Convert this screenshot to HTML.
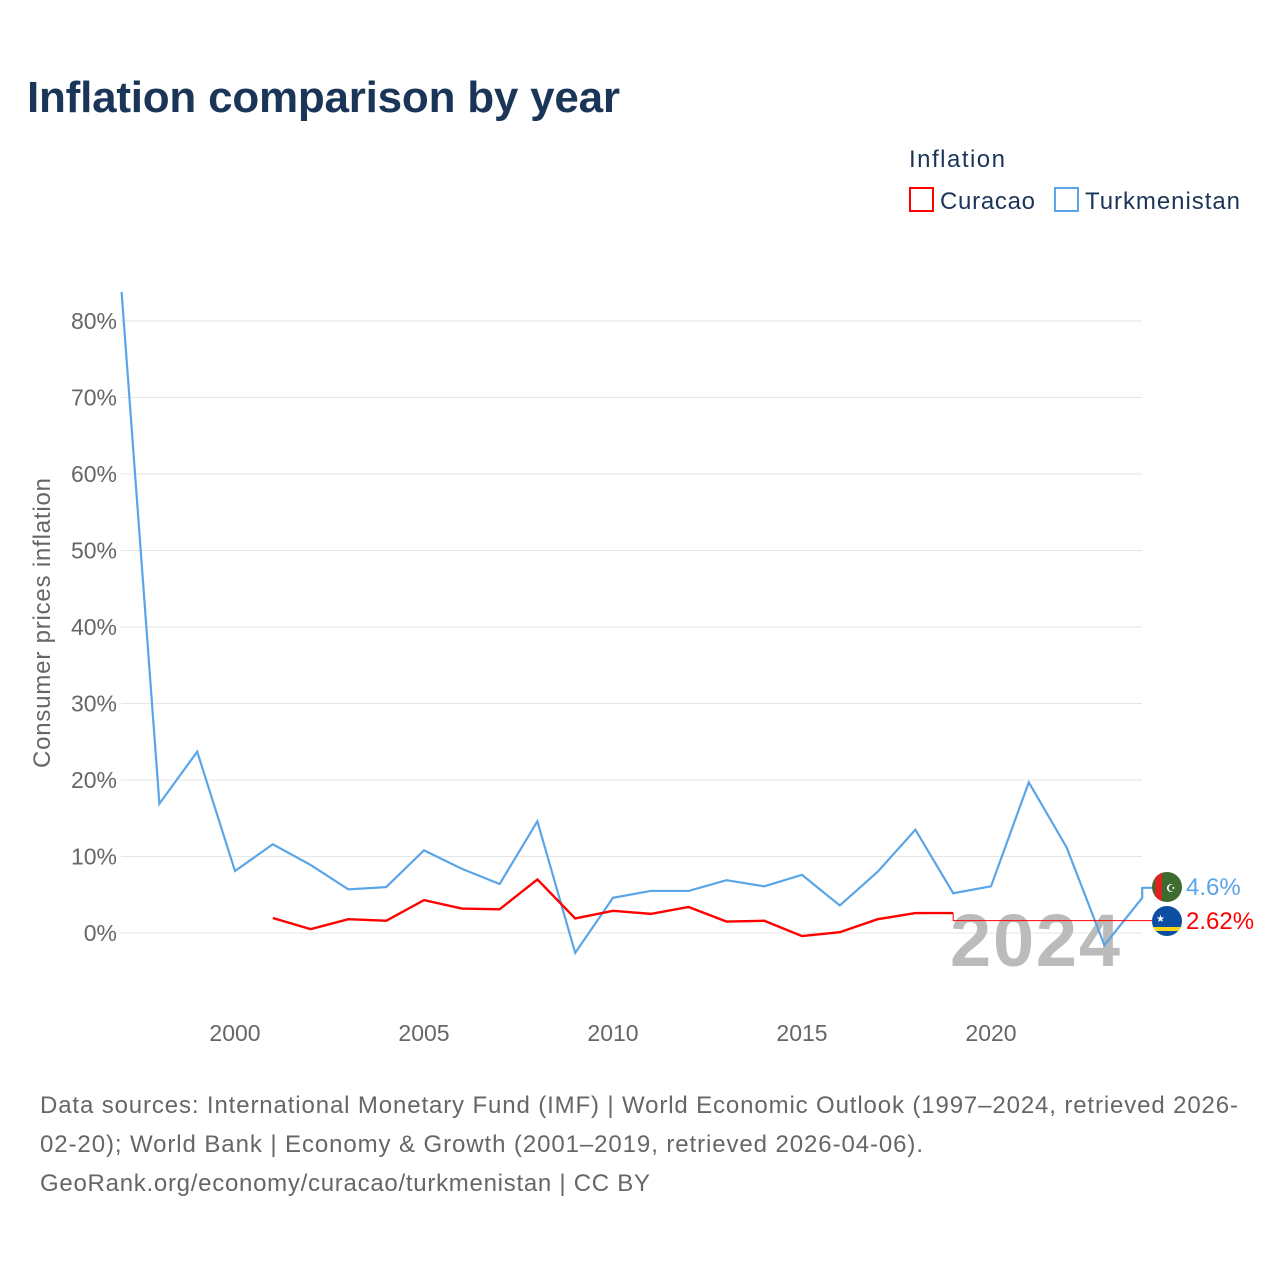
<!DOCTYPE html>
<html><head><meta charset="utf-8"><style>
body{margin:0;background:#fff;font-family:"Liberation Sans",sans-serif;}
#wrap{position:relative;width:1280px;height:1280px;overflow:hidden;}
</style></head><body>
<div id="wrap">
<svg id="svg" width="1280" height="1280">
<text x="27" y="112" font-size="44" font-weight="bold" fill="#1a3557" textLength="593">Inflation comparison by year</text>
<text x="909" y="167" font-size="24" fill="#1a3557" textLength="96">Inflation</text>
<g><rect x="910" y="188" width="23" height="23" fill="none" stroke="red" stroke-width="2"/><text x="940" y="209" font-size="24" fill="#1a3557" textLength="95">Curacao</text></g>
<g><rect x="1055" y="188" width="23" height="23" fill="none" stroke="#5aa5e8" stroke-width="2"/><text x="1085" y="209" font-size="24" fill="#1a3557" textLength="155">Turkmenistan</text></g>
<text transform="translate(50,623) rotate(-90)" text-anchor="middle" font-size="24" fill="#666" textLength="290">Consumer prices inflation</text>
<g id="grid"></g>
<text x="1120" y="966" text-anchor="end" font-size="74" font-weight="bold" fill="#bbb" textLength="170">2024</text>
<g id="marks"></g>
<g><clipPath id="ct"><circle cx="1167" cy="887" r="15"/></clipPath><g clip-path="url(#ct)"><rect x="1150" y="870" width="34" height="34" fill="#3e6b2f"/><rect x="1155" y="870" width="7" height="34" fill="#d22"/></g><text x="1166" y="892" font-size="11" fill="#fff">☪</text></g>
<g><clipPath id="cc"><circle cx="1167" cy="921" r="15"/></clipPath><g clip-path="url(#cc)"><rect x="1150" y="905" width="34" height="34" fill="#0b4ea2"/><rect x="1150" y="927" width="34" height="4" fill="#f9d616"/></g><text x="1156" y="922" font-size="10" fill="#fff">★</text></g>
<text x="1186" y="895" font-size="24" fill="#5aa5e8">4.6%</text>
<text x="1186" y="929" font-size="24" fill="red">2.62%</text>
<text x="40" y="1113" font-size="24" fill="#666" textLength="1198">Data sources: International Monetary Fund (IMF) | World Economic Outlook (1997–2024, retrieved 2026-</text>
<text x="40" y="1152" font-size="24" fill="#666" textLength="883">02-20); World Bank | Economy &amp; Growth (2001–2019, retrieved 2026-04-06).</text>
<text x="40" y="1191" font-size="24" fill="#666" textLength="610">GeoRank.org/economy/curacao/turkmenistan | CC BY</text>
</svg></div>
<script>
const yTicks=[0,10,20,30,40,50,60,70,80];
const xTicks=[2000,2005,2010,2015,2020];
const tkmYears=[1997,1998,1999,2000,2001,2002,2003,2004,2005,2006,2007,2008,2009,2010,2011,2012,2013,2014,2015,2016,2017,2018,2019,2020,2021,2022,2023,2024];
const tkmValues=[83.8,16.9,23.7,8.1,11.6,8.9,5.7,6.0,10.8,8.4,6.4,14.6,-2.6,4.6,5.5,5.5,6.9,6.1,7.6,3.6,8.0,13.5,5.2,6.1,19.7,11.2,-1.6,4.6];
const cuwYears=[2001,2002,2003,2004,2005,2006,2007,2008,2009,2010,2011,2012,2013,2014,2015,2016,2017,2018,2019];
const cuwValues=[1.96,0.5,1.8,1.6,4.3,3.2,3.1,7.0,1.9,2.9,2.5,3.4,1.5,1.6,-0.4,0.1,1.8,2.6,2.6];
const cuwLatest=1.62;
const X=y=>121.6+(y-1997)*37.8, Y=v=>933-v*7.65;
const NS='http://www.w3.org/2000/svg';
const grid=document.getElementById('grid'), marks=document.getElementById('marks');
function mk(t,a,p){const e=document.createElementNS(NS,t);for(const k in a)e.setAttribute(k,a[k]);p.appendChild(e);return e;}
yTicks.forEach(v=>{
 const l=mk('line',{x1:121,x2:1142,y1:Y(v),y2:Y(v),stroke:'#e6e6e6'},grid);
 
 
 const t=mk('text',{x:117,y:Y(v)+8,'text-anchor':'end','font-size':23,fill:'#666'},grid);t.textContent=v+'%';
 
 
});
xTicks.forEach(y=>{
 const t=mk('text',{x:X(y),y:1041,'text-anchor':'middle','font-size':23,fill:'#666'},grid);t.textContent=y;
 
 
});
let d=tkmYears.map((y,i)=>(i?'L':'M')+X(y)+','+Y(tkmValues[i])).join(' ');
const tl=mk('path',{d:d+' L'+(X(2024))+','+(Y(tkmValues[tkmValues.length-1])-10)+' L1152,'+(Y(tkmValues[tkmValues.length-1])-10),fill:'none',stroke:'#5aa5e8','stroke-width':2.2},marks);


d=cuwYears.map((y,i)=>(i?'L':'M')+X(y)+','+Y(cuwValues[i])).join(' ');
const cl=mk('path',{d:d,fill:'none',stroke:'red','stroke-width':2.4},marks);


const last=cuwYears[cuwYears.length-1];
const cs=mk('path',{d:'M'+X(last)+','+Y(cuwValues[cuwValues.length-1])+' L'+X(last)+','+Y(cuwLatest)+' L1152,'+Y(cuwLatest),fill:'none',stroke:'red','stroke-width':1},marks);


</script>
</body></html>
